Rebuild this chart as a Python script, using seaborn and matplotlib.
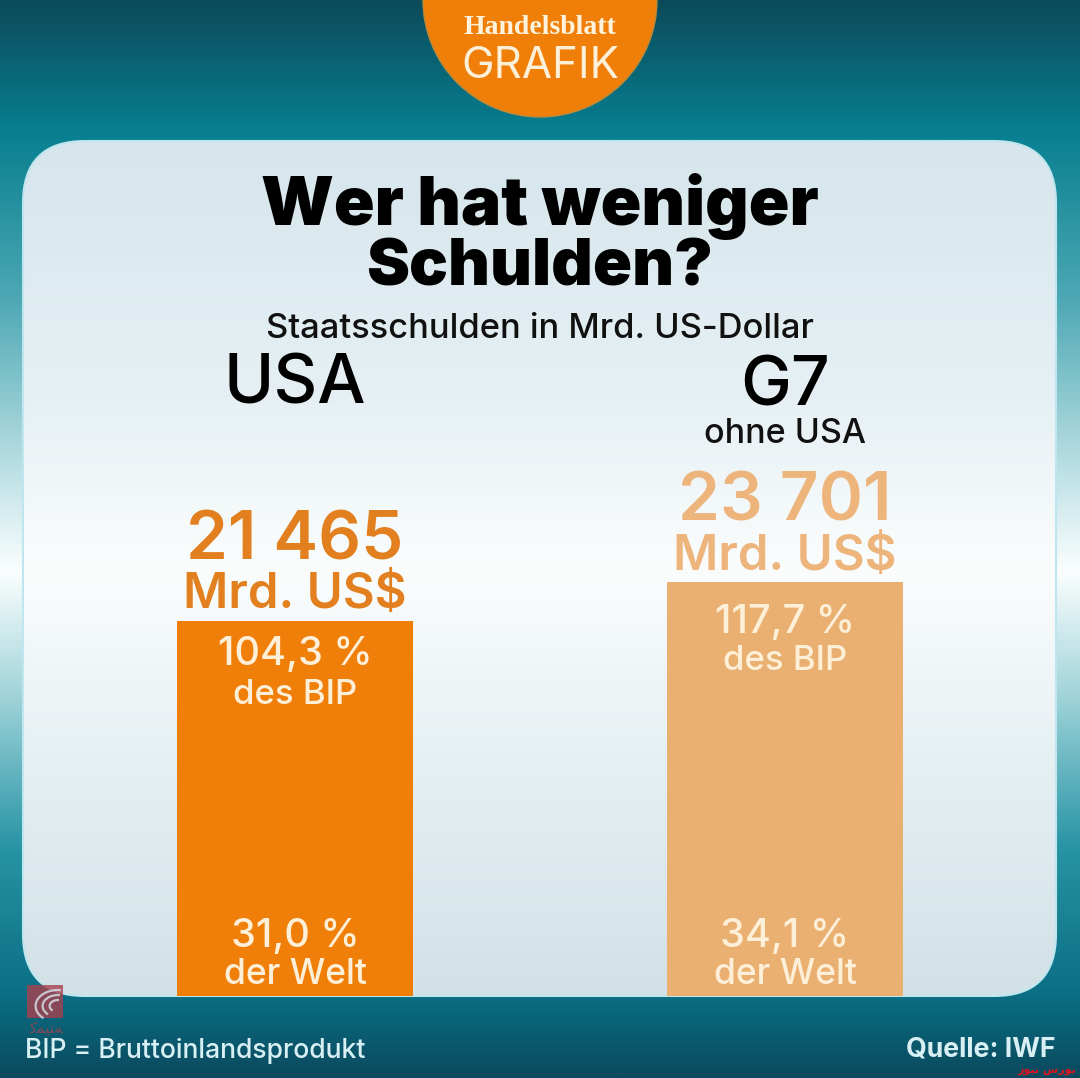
import numpy as np
import matplotlib
matplotlib.use("Agg")
import matplotlib.pyplot as plt
from matplotlib.colors import LinearSegmentedColormap
from matplotlib.patches import Circle, FancyBboxPatch, Rectangle, Arc
import pandas as pd
import seaborn as sns

# values
regions = ["USA", "G7"]
debt = [21465, 23701]
debt_labels = ["21 465", "23 701"]
share_gdp = ["104,3 %", "117,7 %"]
share_world = ["31,0 %", "34,1 %"]

ORANGE = "#F07F0A"
LIGHT = "#EAB071"
W, H = 1080, 1078
FONT = "Inter"

sns.set_theme(style="white")
plt.rcParams["font.family"] = [FONT, "DejaVu Sans"]

fig = plt.figure(figsize=(W / 100, H / 100), dpi=100)

# background layer, coordinates in pixels
bg = fig.add_axes([0, 0, 1, 1], zorder=0)
bg.set_xlim(0, W)
bg.set_ylim(H, 0)
bg.axis("off")

outer = LinearSegmentedColormap.from_list("outer", [
    (0.0, "#0C4B5A"), (0.12, "#077F90"), (0.28, "#4FA9B5"), (0.44, "#BFE2E6"),
    (0.53, "#FBFEFE"), (0.64, "#A5D6DC"), (0.79, "#2693A4"), (0.925, "#0B6E84"),
    (1.0, "#0A4A5E")])
grad = np.linspace(0, 1, 512).reshape(-1, 1)
bg.imshow(grad, cmap=outer, extent=[0, W, H, 0], aspect="auto", zorder=0)

inner = LinearSegmentedColormap.from_list("inner", [
    (0.0, "#D6E6EC"), (0.3, "#E6F0F4"), (0.5, "#FBFDFD"), (0.7, "#E8F1F4"), (1.0, "#D2E1E7")])
panel = FancyBboxPatch((23, 141), 1033, 855, boxstyle="round,pad=0,rounding_size=62",
                       fc="none", ec="#BFE6EE", lw=1.5, zorder=2)
bg.add_patch(panel)
im = bg.imshow(grad, cmap=inner, extent=[0, W, 996, 141], aspect="auto", zorder=1)
im.set_clip_path(panel)
bg.set_xlim(0, W)
bg.set_ylim(H, 0)

bg.add_patch(Circle((540, 0), 117, fc=ORANGE, ec="#B98A3A", lw=1, zorder=3))

# bars, same baseline and scale as in the picture
data = pd.DataFrame({"region": regions, "debt": debt})
ax = fig.add_axes([0, 0, 1, 1], zorder=1)
ax.patch.set_alpha(0)
sns.barplot(data=data, x="region", y="debt", hue="region", palette=[ORANGE, LIGHT],
            width=236 / 490, legend=False, ax=ax, saturation=1, linewidth=0)
px_per_unit = 375 / debt[0]
ax.set_xlim(-295 / 490, (W - 295) / 490)
ax.set_ylim(-(H - 996) / px_per_unit, 996 / px_per_unit)
ax.axis("off")

# text layer
tx = fig.add_axes([0, 0, 1, 1], zorder=2)
tx.patch.set_alpha(0)
tx.set_xlim(0, W)
tx.set_ylim(H, 0)
tx.axis("off")


def put(x, y, s, size, color="black", weight="normal", **kw):
    kw.setdefault("ha", "center")
    tx.text(x, y, s, fontsize=size, color=color, fontweight=weight, va="center", **kw)


put(540, 28, "Handelsblatt", 20, "#FDF3DC", "bold", family="Liberation Serif")
put(540, 66, "GRAFIK", 31.5, "#FDF0D8", "normal")

put(540, 207, "Wer hat weniger", 48.5, "black", "black")
put(540, 269, "Schulden?", 46.5, "black", "black")
put(540, 329, "Staatsschulden in Mrd. US-Dollar", 24.8, "#111111", "medium")

put(295, 386, regions[0], 49, "black", "medium")
put(785, 387, regions[1], 49, "black", "medium")
put(785, 434, "ohne USA", 24.5, "#111111", "medium")

value_y = [542, 503]
unit_y = [595, 557]
gdp_y = [655, 622]
bip_y = [695, 661]
for i, x in enumerate([295, 785]):
    c = "#E2801F" if i == 0 else "#EDB47C"
    put(x, value_y[i], debt_labels[i], 48.5, c, "semibold")
    put(x, unit_y[i], "Mrd. US$", 35.4, c, "semibold")
    put(x, gdp_y[i], share_gdp[i], 28.5, "#FDEFD8", "medium")
    put(x, bip_y[i], "des BIP", 25, "#FDEFD8", "medium")
    put(x, 936, share_world[i], 28.5, "#FDEFD8", "medium")
    put(x, 975, "der Welt", 25.5, "#FDEFD8", "medium")

put(25, 1051, "BIP = Bruttoinlandsprodukt", 19.1, "#D8F0F4", "medium", ha="left")
put(1056, 1049, "Quelle: IWF", 19.2, "#D8F0F4", "bold", ha="right")

# watermarks
tx.add_patch(Rectangle((27, 985), 36, 33, fc="#A8404F", alpha=0.8, lw=0))
for r in (12, 22, 32):
    tx.add_patch(Arc((58, 1006), r * 1.4, r, theta1=140, theta2=280, color="#D9E6EA", lw=1.6, alpha=0.8))
put(46, 1028, "\ufedb\ufee4\ufef4\ufe98\ufeea", 11, "#A8404F", family="DejaVu Sans", alpha=0.75)
put(1076, 1071, "\ufeaf\ufeee\ufef4\ufee7 \ufeb1\ufead\ufeee\ufe91", 8, "#E0141E", "bold",
    ha="right", family="DejaVu Sans")

fig.savefig("out.png", dpi=100)
